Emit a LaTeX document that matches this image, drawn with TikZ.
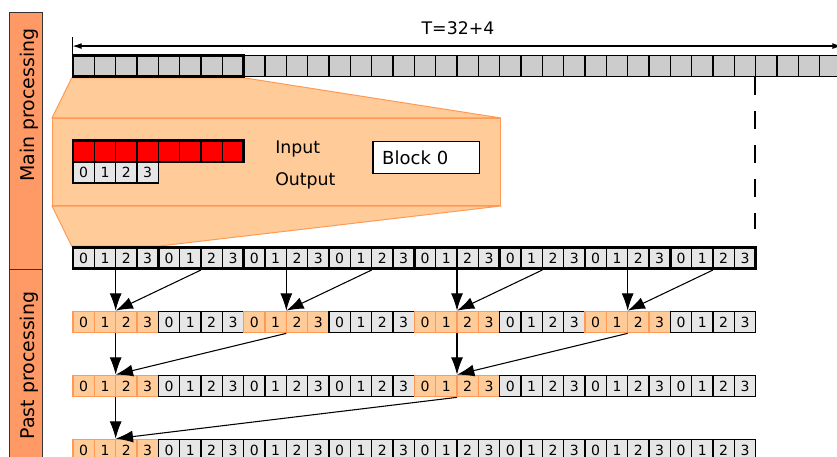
\documentclass[tikz,border=0pt]{standalone}
\usepackage{fontspec}
\setmainfont{DejaVu Sans}
\usetikzlibrary{arrows.meta,backgrounds}

\definecolor{bargray}{HTML}{CCCCCC}
\definecolor{cellgray}{HTML}{E6E6E6}
\definecolor{peach}{HTML}{FFCC99}
\definecolor{peachline}{HTML}{FF9955}
\definecolor{salmon}{HTML}{FF9966}

\tikzset{
  cell/.style={draw, minimum size=16pt, inner sep=0pt, line width=0.9pt,
    font=\fontsize{10.5}{12}\selectfont},
  cold cell/.style={cell, fill=cellgray},
  hot cell/.style={cell, draw=peachline, fill=peach},
  blk/.style={draw, minimum width=64pt, minimum height=16pt, inner sep=0pt},
  cold blk/.style={blk, line width=1.1pt},
  hot blk/.style={blk, draw=peachline, line width=1pt},
  side/.style={draw=black!80, fill=salmon, line width=0.8pt, minimum width=24.75pt,
    inner sep=0pt, anchor=north west},
  sidetext/.style={rotate=90, anchor=base, font=\fontsize{14.2}{17}\selectfont},
  lbl/.style={font=\fontsize{13}{15}\selectfont, inner xsep=0pt},
  lens/.style={fill=peach, draw=peachline, line width=0.75pt},
  flow/.style={-{Latex[length=13pt,width=9pt]}, line width=0.8pt},
  dim/.style={{Latex[length=7pt,width=4.5pt]}-{Latex[length=7pt,width=4.5pt]}, line width=0.9pt},
}

\begin{document}
\begin{tikzpicture}[x=0.75pt, y=-0.75pt]
  \useasboundingbox (0,0) rectangle (837,456);

  % side headers
  \node[side, minimum height=192.5pt] (mainbox) at (9.3,12.3) {};
  \node[side, minimum height=151pt] (pastbox) at (9.3,269) {};
  \node[sidetext] (mainlbl) at (34,105) {Main processing};
  \node[sidetext] (pastlbl) at (34,365.5) {Past processing};

  % whole time line, T samples
  \foreach \i in {0,...,35}
    \node[cell, fill=bargray] (t\i) at ({83.67+21.333*\i},66) {};
  \node[blk, minimum width=128pt, line width=2pt] (blk0) at (158.33,66) {};

  \node[lbl, anchor=base] (tlen) at (458,35) {T=32+4};
  \draw (t0.north west) -- ++(0,-18) coordinate (tl);
  \draw (t35.north east) -- ++(0,-18) coordinate (tr);
  \draw[dim] ([yshift=-7pt]tl) -- ([yshift=-7pt]tr);
  \draw[line width=0.9pt, dash pattern=on 13pt off 12.5pt] (t32.south west) -- ++(0,152);

  % one block: input and output
  \foreach \i in {0,...,7}
    \node[cell, fill=red] (in\i) at ({83.67+21.333*\i},151.2) {};
  \node[blk, minimum width=128pt, line width=2pt] (inp) at (158.33,151.2) {};
  \foreach \i in {0,...,3}
    \node[cold cell] (out\i) at ({83.67+21.333*\i},172.5) {\i};
  \node[blk, line width=1.2pt] (outp) at (115.67,172.5) {};

  \node[lbl, anchor=base west] (inlbl) at (275,153.3) {Input};
  \node[lbl, anchor=base west] (outlbl) at (275,185) {Output};
  \node[draw, fill=white, line width=0.9pt, anchor=north west, minimum width=80pt,
    minimum height=24pt, text width=66pt, inner xsep=7pt, align=left,
    font=\fontsize{13.5}{15}\selectfont] (blkname) at (372.3,140.7) {Block 0};

  % output of the main loop
  \foreach \g in {0,...,7} {
    \foreach \k in {0,...,3}
      \node[cold cell] (c1\g\k) at ({83.67+21.333*(4*\g+\k)},258) {\k};
    \node[blk, line width=2pt] (b1\g) at ({115.67+85.333*\g},258) {};
  }

  % past processing rows
  \foreach \r/\m in {2/2,3/4,4/8} {
    \pgfmathsetmacro\y{258+64*(\r-1)}
    \foreach \g in {0,...,7} {
      \pgfmathtruncatemacro\hot{mod(\g,\m)==0}
      \ifnum\hot=1 \def\kind{hot}\else\def\kind{cold}\fi
      \foreach \k in {0,...,3}
        \node[\kind\space cell] (c\r\g\k) at ({83.67+21.333*(4*\g+\k)},\y) {\k};
      \node[\kind\space blk] (b\r\g) at ({115.67+85.333*\g},\y) {};
    }
  }

  % zoom from the time line onto block 0
  \begin{scope}[on background layer]
    \node[lens, anchor=north west, minimum width=336pt, minimum height=65.25pt,
      inner sep=0pt] (lensbox) at (52,118) {};
    \filldraw[lens] (blk0.south west) -- (blk0.south east) -- (lensbox.north east)
      -- (lensbox.north west) -- cycle;
    \filldraw[lens] (lensbox.south west) -- (lensbox.south east) -- (b10.north east)
      -- (b10.north west) -- cycle;
  \end{scope}

  % merging blocks
  \foreach \g/\h in {0/1,2/3,4/5,6/7} {
    \draw[flow] (b1\g.south) -- (b2\g.north);
    \draw[flow] (b1\h.south) -- (b2\g.north);
  }
  \foreach \g/\h in {0/2,4/6} {
    \draw[flow] (b2\g.south) -- (b3\g.north);
    \draw[flow] (b2\h.south) -- (b3\g.north);
  }
  \draw[flow] (b30.south) -- (b40.north);
  \draw[flow] (b34.south) -- (b40.north);
\end{tikzpicture}
\end{document}
